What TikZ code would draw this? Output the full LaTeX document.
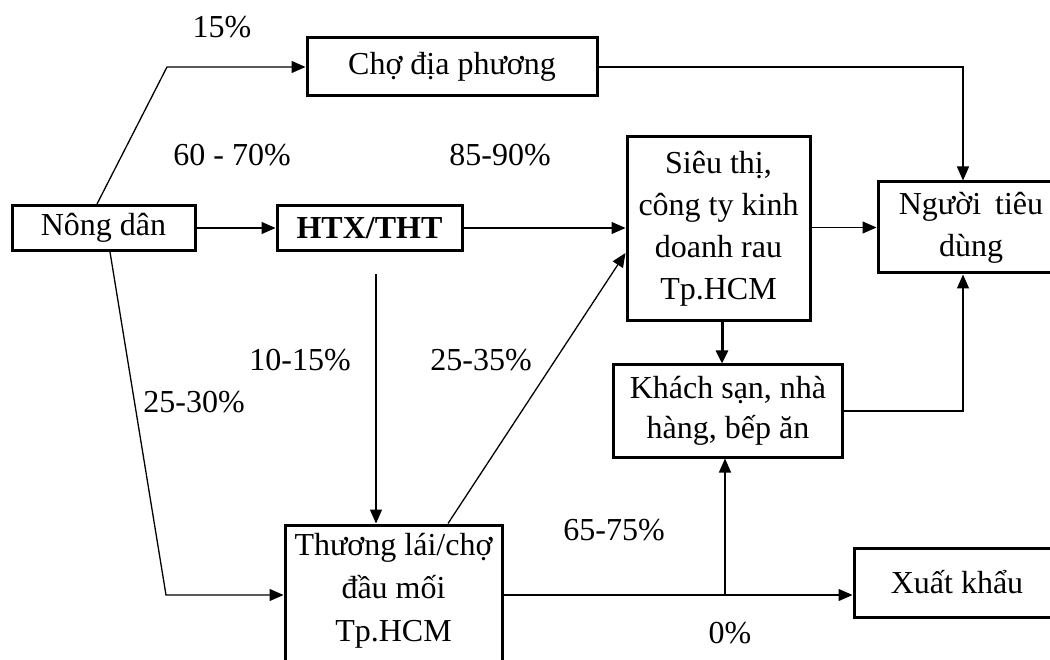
\documentclass[tikz,border=0pt]{standalone}
\usepackage{fontspec}
\setmainfont{Liberation Serif}
\usetikzlibrary{arrows.meta}
\begin{document}
\begin{tikzpicture}[x=1pt,y=-1pt,
  box/.style={draw, line width=3pt, inner sep=0pt, align=center},
  conn/.style={line width=1.3pt},
  arr/.style={conn, -{Triangle[length=14pt,width=12pt]}},
  arrthick/.style={line width=3pt, -{Triangle[length=13pt,width=12pt]}},
  lbl/.style={inner sep=0pt},
  font=\fontsize{32}{42}\selectfont]
\useasboundingbox (0,0) rectangle (1050,660);
\clip (0,0) rectangle (1050,660);
% boxes
\node[box, minimum width=183pt, minimum height=45pt] (nong) at (103.5,228) {Nông dân};
\node[box, minimum width=185pt, minimum height=45pt] (htx) at (369.5,228) {\textbf{HTX/THT}};
\node[box, minimum width=290pt, minimum height=58pt] (cho) at (452,67) {Chợ địa phương};
\node[box, minimum width=183pt, minimum height=184pt] (sieu) at (718.5,229) {Siêu thị,\\công ty kinh\\doanh rau\\Tp.HCM};
\node[box, minimum width=186pt, minimum height=91pt] (nguoi) at (971,227.5) {Người\hspace{6pt} tiêu\\dùng};
\node[box, minimum width=229pt, minimum height=92pt, font=\fontsize{32}{40}\selectfont] (khach) at (728,411) {Khách sạn, nhà\\hàng, bếp ăn};
\node[box, minimum width=217pt, minimum height=150pt, font=\fontsize{32}{43}\selectfont] (thuong) at (393.5,600) {Thương lái/chợ\\đầu mối\\Tp.HCM\rule[-25pt]{0pt}{1pt}};
\node[box, minimum width=206pt, minimum height=69pt] (xuat) at (957,582.5) {Xuất khẩu};
% helper coordinates
\coordinate (k0) at (97,0);
\coordinate (k1) at (167,67);
\coordinate (k9) at (110,0);
\coordinate (k2) at (166,595);
\coordinate (k3) at (963,67);
\coordinate (k4) at (963,411);
\coordinate (k5) at (725,595);
\coordinate (k6) at (376,274);
\coordinate (k7) at (722,0);
\coordinate (k8) at (448,0);
% connectors
\draw[arr] (nong.north -| k0) -- (k1) -- (cho.west);
\draw[arr] (nong) -- (htx);
\draw[arr] (nong.south -| k9) -- (k2) -- (thuong.west |- k2);
\draw[arr] (htx) -- (sieu.west |- htx);
\draw[arr] (k6) -- (k6 |- thuong.north);
\draw[arr] (thuong.north -| k8) -- ([yshift=-24pt]sieu.west);
\draw[arr] (sieu.east |- nguoi.west) -- (nguoi.west);
\draw[arr] (cho.east) -- (k3) -- (nguoi.north -| k3);
\draw[arrthick] (sieu.south -| k7) -- (khach.north -| k7);
\draw[arr] (khach.east) -- (k4) -- (nguoi.south -| k4);
\draw[arr] (thuong.east |- k2) -- (xuat.west |- k2);
\draw[arr] (k5) -- (khach.south -| k5);
% labels
\node[lbl] (l1) at (222,27) {15\%};
\node[lbl] (l2) at (232,155) {60 - 70\%};
\node[lbl] (l3) at (500,155) {85-90\%};
\node[lbl] (l4) at (300,360) {10-15\%};
\node[lbl] (l5) at (194,402) {25-30\%};
\node[lbl] (l6) at (481,360) {25-35\%};
\node[lbl] (l7) at (614,530) {65-75\%};
\node[lbl] (l8) at (730,633) {0\%};
\end{tikzpicture}
\end{document}
